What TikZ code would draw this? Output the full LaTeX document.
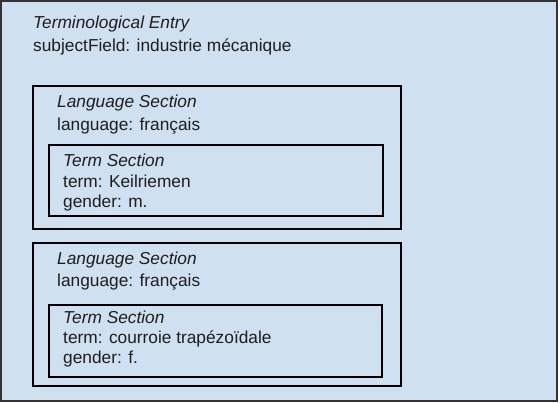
\documentclass[tikz,border=0pt]{standalone}
\usepackage{fontspec}
\setmainfont{Liberation Sans}
\definecolor{boxfill}{RGB}{207,224,241}
\definecolor{txt}{RGB}{30,30,30}
\begin{document}
\begin{tikzpicture}[x=1pt,y=-1pt,
  outerbox/.style={draw=black!80,line width=1.6pt,fill=boxfill},
  secbox/.style={draw=black,line width=1.8pt},
  lbl/.style={anchor=base west,inner sep=0pt,text=txt,font=\fontsize{17.3}{20}\selectfont},
  ttl/.style={lbl,font=\fontsize{17.3}{20}\selectfont\itshape}]
\useasboundingbox (0,0) rectangle (560,402);
\draw[outerbox] (1,1) rectangle (557,401);
\node[ttl] (entrytitle) at (33,28) {Terminological Entry};
\node[lbl] (subject) at (33,51) {subjectField: industrie mécanique};
% Language section 1
\draw[secbox] (33,86) rectangle (401,229);
\node[ttl] (lang1title) at (57,107) {Language Section};
\node[lbl] (lang1) at (57,130) {language: français};
\draw[secbox] (49,145) rectangle (383,216);
\node[ttl] (term1title) at (63,166) {Term Section};
\node[lbl] (term1) at (63,187) {term: Keilriemen};
\node[lbl] (gender1) at (63,207) {gender: m.};
% Language section 2
\draw[secbox] (33,243) rectangle (401,386);
\node[ttl] (lang2title) at (57,264) {Language Section};
\node[lbl] (lang2) at (57,286) {language: français};
\draw[secbox] (49,305) rectangle (382,377);
\node[ttl] (term2title) at (63,323) {Term Section};
\node[lbl] (term2) at (63,343) {term: courroie trapézoïdale};
\node[lbl] (gender2) at (63,363) {gender: f.};
\end{tikzpicture}
\end{document}
